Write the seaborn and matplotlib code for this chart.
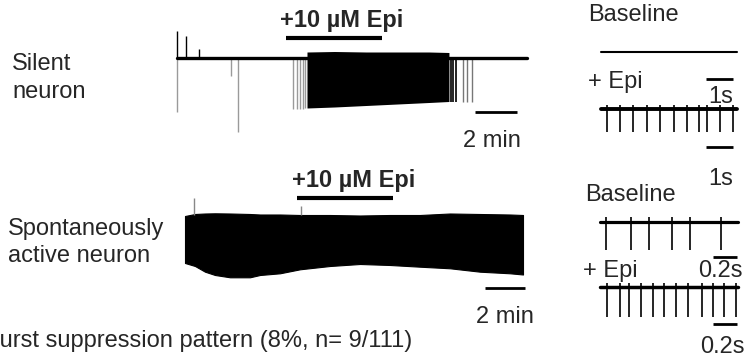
import matplotlib
matplotlib.use('Agg')
import matplotlib.pyplot as plt
import seaborn as sns

# ---- silent neuron, long trace (time in min, voltage in mV relative to rest)
silent_t_end = 16.65
silent_up_t = [0.01, 0.43, 1.06]
silent_up_v = [27, 22.5, 9]
silent_gray_t = [0.01, 2.59, 2.92, 5.54, 5.70, 5.86, 6.0, 6.1]
silent_gray_v = [-54, -17.5, -73.5, -51, -51, -51, -51, -50]
burst_t = [6.19, 7.5, 9.0, 10.5, 12.0, 12.95]
burst_hi = [6, 6.5, 6, 6, 6, 5.5]
burst_lo = [-50, -49, -47.5, -46, -44.5, -43.5]
after_t = [13.03, 13.16, 13.29]
after_v = [-43.5, -43.5, -43.5]
after_gray_t = [13.63, 13.79, 14.03]
after_gray_v = [-43.5, -43.5, -43.5]

# ---- spontaneously active neuron, long trace (envelope of dense firing)
active_t = [0, 0.5, 1, 1.5, 2.25, 3.25, 3.75, 4.75, 5.75, 7.25, 8.75,
            10.25, 11.75, 13.25, 14.75, 16.25, 16.9]
active_hi = [-1, 1, 1.5, 1.7, 1.5, 1, 0.5, 0.5, 0, 0, -0.5,
             0, 0, 1.5, 1, 0.5, 0]
active_lo = [-48, -51, -56.7, -60, -62.3, -62.3, -60, -58.3, -54.3, -51, -49,
             -50, -51.7, -53.3, -56.7, -58.3, -59.5]
active_spike_t = [0.45, 5.8]
active_spike_v = [17, 9]

# ---- expanded traces (time in s)
silent_base_end = 5.04
silent_epi_spikes = [0.23, 0.70, 1.20, 1.71, 2.19, 2.70, 3.17, 3.63, 3.93, 4.41, 4.88]
active_base_end = 1.15
active_base_spikes = [0.05, 0.256, 0.411, 0.598, 0.75, 1.006]
active_epi_spikes = [0.056, 0.167, 0.244, 0.339, 0.444, 0.533, 0.633, 0.736,
                     0.848, 0.944, 1.033, 1.131]

sns.set_theme(style='white')
plt.rcParams['font.family'] = ['Liberation Sans', 'DejaVu Sans']
FS = 17
W, H = 747, 358
fig = plt.figure(figsize=(W / 100, H / 100), dpi=100)


def trace_axes(x0, y0, ppt, left, right, top, bottom):
    # axes box in pixels, (x0, y0) = pixel of t=0 / v=0, 1 px per mV
    ax = fig.add_axes([left / W, 1 - bottom / H, (right - left) / W, (bottom - top) / H])
    ax.set_xlim((left - x0) / ppt, (right - x0) / ppt)
    ax.set_ylim(y0 - bottom, y0 - top)
    ax.axis('off')
    ax.patch.set_alpha(0)
    return ax


def label(x, y, s, **kw):
    fig.text(x / W, 1 - y / H, s, fontsize=FS, va='baseline', **kw)


def flat(ax, t_end, lw):
    sns.lineplot(x=[0, t_end], y=[0, 0], ax=ax, color='black', lw=lw)


def bar(ax, t0, t1, v, lw=2):
    ax.plot([t0, t1], [v, v], color='black', lw=lw, solid_capstyle='butt', clip_on=False)


# silent neuron, long
ax = trace_axes(177, 58, 21, 165, 540, 15, 145)
ax.vlines(silent_gray_t, 0, silent_gray_v, color='#9a9a9a', lw=1)
ax.vlines(after_gray_t, 0, after_gray_v, color='#777777', lw=1)
ax.vlines(silent_up_t, 0, silent_up_v, color='black', lw=1)
ax.vlines(after_t, 0, after_v, color='black', lw=1.2)
ax.fill_between(burst_t, burst_lo, burst_hi, color='black', lw=0)
flat(ax, silent_t_end, 2.4)
bar(ax, 5.19, 9.76, 20.3, lw=3)
bar(ax, 14.19, 16.19, -54)

# active neuron, long
ax = trace_axes(185, 215, 20, 175, 540, 180, 300)
ax.vlines(active_spike_t, 0, active_spike_v, color='#888888', lw=1)
ax.fill_between(active_t, active_lo, active_hi, color='black', lw=0.8, edgecolor='black')
bar(ax, 5.6, 10.4, 17.3, lw=3)
bar(ax, 15, 17, -73)

# expanded: silent baseline / epi
ax = trace_axes(601, 52, 27, 590, 745, 40, 65)
flat(ax, silent_base_end, 1.5)
ax = trace_axes(601, 109, 27, 590, 745, 70, 155)
ax.vlines(silent_epi_spikes, -23, 4, color='black', lw=1.2)
flat(ax, silent_base_end, 2.8)
bar(ax, 3.9, 4.9, 30)
bar(ax, 3.9, 4.9, -37.7)

# expanded: active baseline / epi
ax = trace_axes(600, 222, 120, 590, 745, 205, 255)
ax.vlines(active_base_spikes, -28, 5, color='black', lw=1.2)
flat(ax, active_base_end, 2.3)
ax = trace_axes(600, 287, 120, 590, 745, 250, 330)
ax.vlines(active_epi_spikes, -30, 4, color='black', lw=1.2)
flat(ax, active_base_end, 2.5)
bar(ax, 0.94, 1.14, 29.7)
bar(ax, 0.94, 1.14, -37)

# text
label(342, 27, '+10 µM Epi', ha='center', fontweight='bold')
label(12, 70, 'Silent')
label(12, 98, 'neuron')
label(492, 147, '2 min', ha='center')
label(354, 187, '+10 µM Epi', ha='center', fontweight='bold')
label(8, 235, 'Spontaneously')
label(8, 262, 'active neuron')
label(505, 323, '2 min', ha='center')
label(-16, 347, 'Burst suppression pattern (8%, n= 9/111)', ha='left')
label(588, 21, 'Baseline')
label(588, 88, '+ Epi')
label(720.5, 103, '1s', ha='center')
label(720.5, 185, '1s', ha='center')
label(585, 201, 'Baseline')
label(583, 277, '+ Epi')
label(720, 277, '0.2s', ha='center')
label(722, 353, '0.2s', ha='center')

fig.savefig('out.png', dpi=100)
